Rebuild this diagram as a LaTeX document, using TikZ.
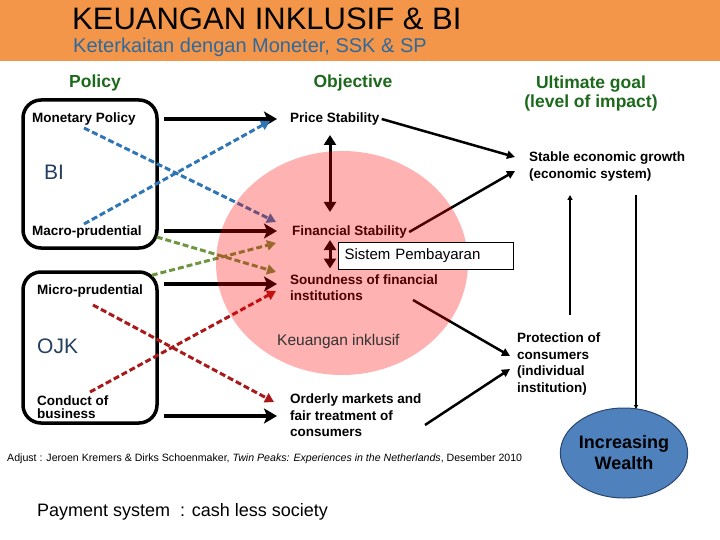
\documentclass[tikz,border=0pt]{standalone}
\usepackage{fontspec}
\setmainfont{Liberation Sans}
\usetikzlibrary{arrows.meta,calc,shapes.geometric}
\definecolor{hdrorange}{RGB}{244,150,74}
\definecolor{subblue}{RGB}{47,105,155}
\definecolor{hgreen}{RGB}{28,105,28}
\definecolor{dblue}{RGB}{46,117,182}
\definecolor{dgreen}{RGB}{110,150,65}
\definecolor{dred}{RGB}{170,25,25}
\definecolor{slate}{RGB}{36,63,96}
\definecolor{wealth}{RGB}{79,129,189}
\definecolor{wealthline}{RGB}{40,70,110}
\definecolor{kigray}{RGB}{50,50,50}
\tikzset{
  lbl/.style={inner sep=0pt, font=\fontsize{13.5}{16.6}\selectfont\bfseries, align=left, anchor=west},
  hdr/.style={inner sep=0pt, font=\fontsize{17.5}{19}\selectfont\bfseries, text=hgreen, align=center},
  policybox/.style={draw, line width=3.5pt, rounded corners=18pt, minimum width=134pt, inner sep=0pt},
  bigarrow/.style={line width=4pt, -{Stealth[length=13pt,width=15pt,inset=3pt]}},
  dasharrow/.style={line width=3pt, dash pattern=on 6pt off 3pt, -{Triangle[length=9pt,width=10pt]}},
  thinarrow/.style={line width=2.5pt, -{Triangle[length=8pt,width=8pt]}},
  dblarrow/.style={line width=3pt, {Triangle[length=10pt,width=12pt]}-{Triangle[length=10pt,width=12pt]}},
  bigtext/.style={inner sep=0pt, anchor=west, font=\fontsize{21}{24}\selectfont, text=slate},
}
\begin{document}
\begin{tikzpicture}[x=1pt,y=-1pt]
\useasboundingbox (0,0) rectangle (720,540);
% header
\fill[hdrorange] (0,0) rectangle (720,61);
\node[inner sep=0pt, anchor=west, font=\fontsize{31}{33}\selectfont] (title) at (72,19) {KEUANGAN INKLUSIF \& BI};
\node[inner sep=0pt, anchor=west, font=\fontsize{20}{22}\selectfont, text=subblue] (subtitle) at (73,47.5) {Keterkaitan dengan Moneter, SSK \& SP};
% column headers
\node[hdr] (hPolicy) at (95,83) {Policy};
\node[hdr] (hObjective) at (353,83) {Objective};
\node[hdr] (hGoal) at (591,93.5) {Ultimate goal\\(level of impact)};
% policy boxes
\node[policybox, minimum height=148pt] (bi) at (90,174) {};
\node[policybox, minimum height=151pt] (ojk) at (90,347.5) {};
\node[lbl] (tMon) at (32,119) {Monetary Policy};
\node[bigtext] (tBI) at (44,172) {BI};
\node[lbl] (tMacro) at (32,232) {Macro-prudential};
\node[lbl] (tMicro) at (37,291) {Micro-prudential};
\node[bigtext] (tOJK) at (37,346) {OJK};
\node[lbl, font=\fontsize{13.5}{13}\selectfont\bfseries] (tCob) at (37,407.5) {Conduct of\\business};
% objectives
\node[lbl] (ps) at (290,119) {Price Stability};
\node[lbl] (fs) at (292,232) {Financial Stability};
\node[lbl] (snd) at (290,287.5) {Soundness of financial\\institutions};
\node[lbl] (om) at (290,415.5) {Orderly markets and\\fair treatment of\\consumers};
% ultimate goals
\node[lbl] (seg) at (529,166.5) {Stable economic growth\\(economic system)};
\node[lbl] (pc) at (517,364) {Protection of\\consumers\\(individual\\institution)};
\node[ellipse, fill=wealth, draw=wealthline, line width=1pt, minimum width=120pt, minimum height=90pt, inner sep=0pt, align=center, font=\fontsize{18}{21}\selectfont\bfseries] (iw) at (624,453) {Increasing\\Wealth};
% black arrows policy -> objective
\draw[bigarrow] ($(bi.east|-tMon.west)+(5,0)$) -- ($(ps.west)+(-13,0)$);
\draw[bigarrow] ($(bi.east|-tMacro.west)+(5,-1)$) -- ($(fs.west)+(-15,-1)$);
\draw[bigarrow] ($(ojk.east|-snd.west)+(5,-3.5)$) -- ($(snd.west)+(-13,-3.5)$);
\draw[bigarrow] ($(ojk.east|-om.west)+(5,0.5)$) -- ($(om.west)+(-13,0.5)$);
% dashed arrows
\draw[dasharrow, dblue] ($(tMon.west)+(52,9)$) -- ($(fs.west)+(-16,-10)$);
\draw[dasharrow, dblue] ($(tMacro.west)+(52,-8)$) -- ($(ps.west)+(-20,2)$);
\draw[dasharrow, dgreen] ($(bi.east|-tMacro.west)+(-2,5)$) -- ($(snd.west)+(-14,-15.5)$);
\draw[dasharrow, dgreen] ($(ojk.north east)+(-7,5)$) -- ($(fs.west)+(-16,11)$);
\draw[dasharrow, dred] ($(tMicro.west)+(56,14)$) -- ($(om.west)+(-16,-13.5)$);
\draw[dasharrow, dred] ($(tCob.west)+(53,-15.5)$) -- ($(snd.west)+(-14,3.5)$);
% vertical double arrows
\draw[dblarrow] ($(ps.west)+(40,16)$) -- ($(fs.west)+(38,-20)$);
\draw[dblarrow] ($(fs.west)+(38,8)$) -- ($(snd.west)+(40,-19)$);
% objective -> ultimate
\draw[thinarrow] ($(ps.east)+(2,0)$) -- ($(seg.west)+(-14,-9.5)$);
\draw[thinarrow] ($(fs.east)+(2,0)$) -- ($(seg.west)+(-14,4.5)$);
\draw[thinarrow] ($(snd.west)+(123,12.5)$) -- ($(pc.west)+(-7,-8)$);
\draw[thinarrow] ($(om.west)+(135,9.5)$) -- ($(pc.west)+(-7,5)$);
\draw[line width=2pt, -{Triangle[length=5pt,width=5pt]}] ($(pc.west)+(53,-49)$) -- ($(seg.west)+(41,28.5)$);
\draw[line width=2pt, -{Triangle[length=4pt,width=4pt]}] ($(seg.west)+(107,28.5)$) -- ($(iw.center)+(12,-44)$);
% pink circle
\node[ellipse, fill=red, fill opacity=0.3, draw=none, minimum width=252pt, minimum height=224pt, inner sep=0pt] (ring) at (342,263) {};
\node[draw, line width=1pt, fill=white, inner xsep=6pt, inner ysep=0pt, text width=163pt, minimum height=27pt, align=left, anchor=west, font=\fontsize{15}{17}\selectfont] (sp) at (338,255.5) {Sistem Pembayaran};
\node[inner sep=0pt, anchor=west, font=\fontsize{15.5}{17}\selectfont, text=kigray] (ki) at (277,341) {Keuangan inklusif};
% footer
\node[inner sep=0pt, anchor=west, font=\fontsize{10.6}{12}\selectfont] (credit) at (7,459) {Adjust : Jeroen Kremers \& Dirks Schoenmaker, \textit{Twin Peaks: Experiences in the Netherlands}, Desember 2010};
\node[inner sep=0pt, anchor=west, font=\fontsize{18}{20}\selectfont] (pay) at (37,512) {Payment system\ \ : cash less society};
\end{tikzpicture}
\end{document}
